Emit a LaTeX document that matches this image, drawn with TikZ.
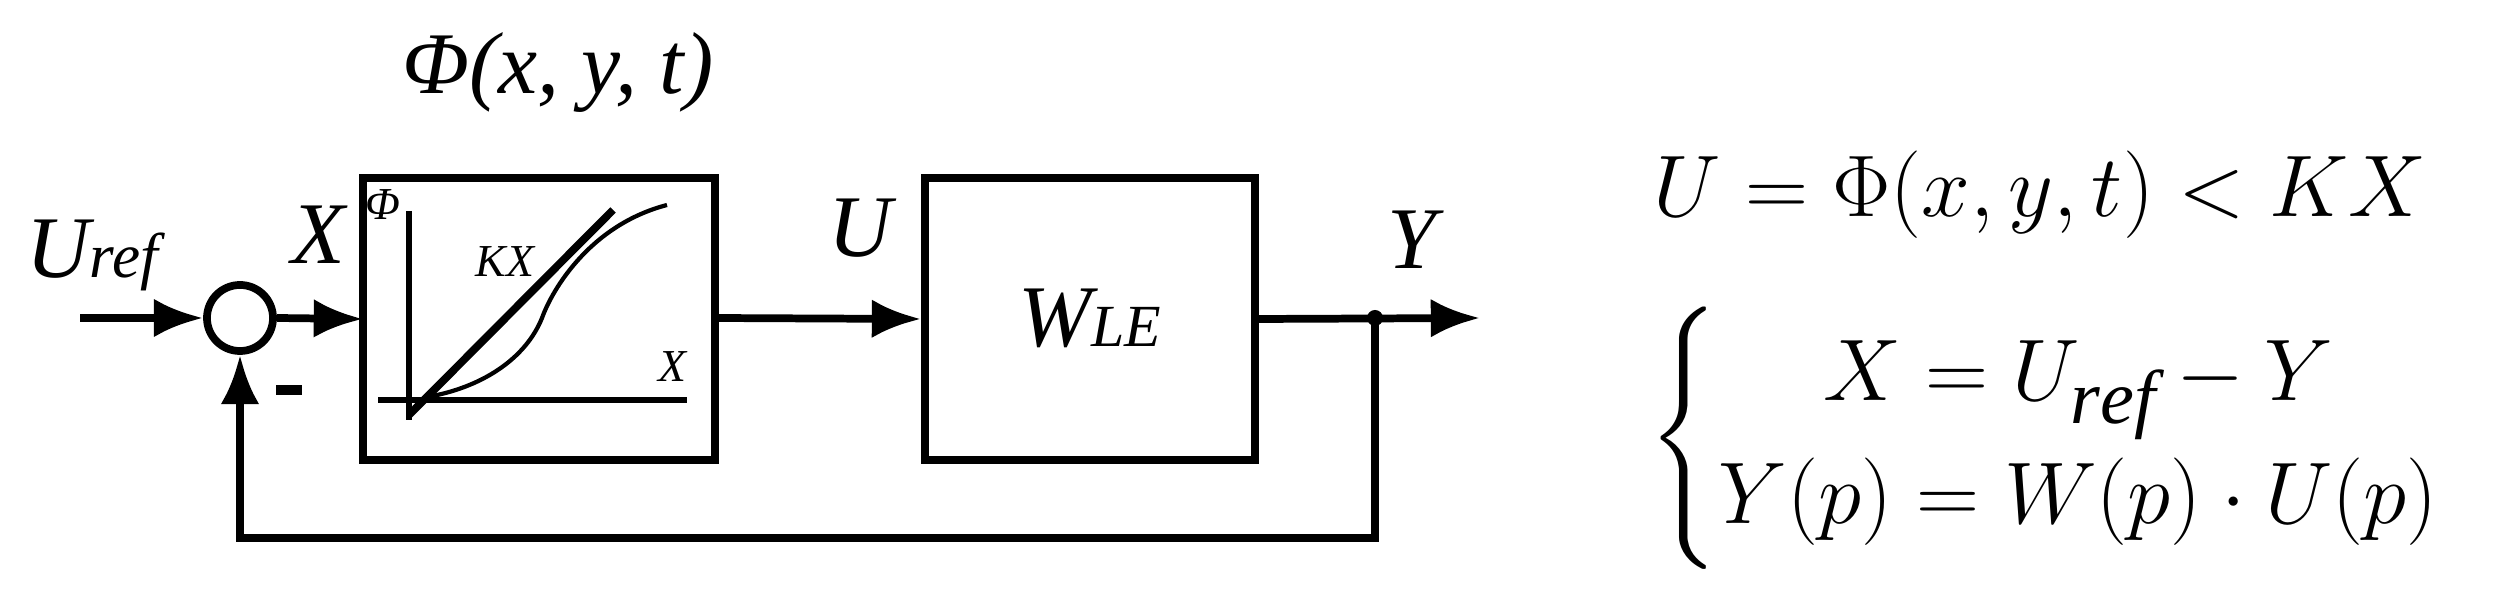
\documentclass[tikz,border=0pt]{standalone}
\usepackage{amsmath}
\usepackage{fontspec}
\setmainfont{Liberation Serif}
\usetikzlibrary{arrows.meta}
\begin{document}
\begin{tikzpicture}[x=0.01cm,y=-0.01cm,
  blk/.style={draw,line width=2.2pt},
  wire/.style={line width=2.2pt},
  arr/.style={wire,-{Latex[length=14pt,width=11pt]}},
  lab/.style={font=\fontsize{25}{28}\selectfont\itshape},
  small/.style={font=\fontsize{13}{15}\selectfont\itshape}]
\useasboundingbox (0,0) rectangle (2510,592);
\node[circle,draw,line width=2.2pt,minimum size=0.66cm,inner sep=0] (sum) at (240,318) {};
\coordinate (in) at (80,318);
\draw[blk] (363,178) rectangle (715,460);
\path (363,319) coordinate (nlw) (715,318) coordinate (nle);
\node[blk,minimum width=3.3cm,minimum height=2.82cm] (le) at (1090,319) {};
\node[lab] at (1090,318) {W\fontsize{17}{20}\selectfont LE};
\coordinate (out) at (1480,318);
\node[circle,fill,inner sep=0,minimum size=0.16cm] (dot) at (1375,318) {};
\draw[arr] (in) -- (sum.west);
\draw[arr] (sum.east) -- (nlw);
\draw[arr] (nle) -- (le.west);
\draw[arr] (le.east) -- (out);
\draw[arr] (dot.center) |- (240,538) -- (sum.south);
% graph
\draw[line width=1.8pt] (409,211) -- (409,420);
\draw[line width=1.8pt] (378,400) -- (687,400);
\draw[line width=2.2pt] (409,415) -- (613,210);
\draw[line width=1.2pt] (427,397) .. controls (480,388) and (525,360) .. (542,318) .. controls (552,290) and (590,225) .. (667,205);
\node[small] at (383,205) {Φ};
\node[small] at (505,262) {KX};
\node[small] at (672,367) {X};
% labels
\node[lab] at (92,255) {U\fontsize{18}{20}\selectfont ref};
\node[lab] at (318,235) {X};
\node[lab] at (860,228) {U};
\node[lab] at (1412,240) {Y};
\node[lab] at (558,72) {Φ(x, y, t)};
\draw[line width=3pt] (276,390) -- (302,390);
% equations
\node[font=\fontsize{31}{34}\selectfont,inner sep=0] at (2040,195) {$U=\Phi(x,y,t)<KX$};
\node[font=\fontsize{31}{34}\selectfont,inner sep=0] at (2045,438) {$\renewcommand\arraystretch{1.0}\left\{\begin{array}{@{}c@{}}X=U_{\mathit{ref}}-Y\\ Y(p)=W(p)\cdot U(p)\end{array}\right.$};
\end{tikzpicture}
\end{document}
